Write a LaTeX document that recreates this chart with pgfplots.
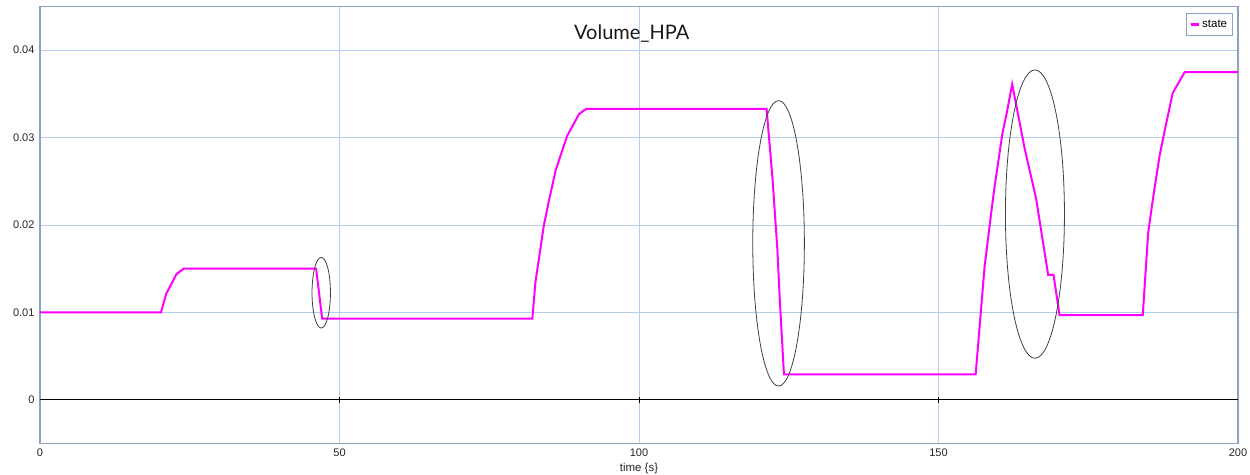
\documentclass[border=0pt]{standalone}
\usepackage{pgfplots}
\pgfplotsset{compat=1.18}
\usepackage{fontspec}
\setmainfont{Liberation Sans}
\newfontfamily\titlefont{Lato}
\definecolor{gridc}{RGB}{178,206,236}
\definecolor{framec}{RGB}{140,162,192}
\definecolor{curve}{RGB}{255,0,255}
\pgfplotstableread{
t v
0 0.01
20.2 0.01
21.05 0.0121
22.8 0.0144
24.0 0.015
46.1 0.015
47.1 0.0093
82.2 0.0093
82.7 0.0134
84.1 0.0199
85.0 0.0229
86.1 0.0263
88.0 0.0302
90.0 0.0327
91.2 0.0333
121.3 0.0333
122.3 0.0252
123.1 0.0172
123.5 0.0115
124.2 0.0029
156.2 0.0029
157.7 0.0153
158.8 0.0214
159.3 0.0241
160.7 0.0306
161.3 0.0325
162.3 0.0361
164.4 0.0287
166.3 0.0230
168.3 0.0143
169.2 0.0143
170.2 0.0097
184.1 0.0097
185.0 0.0191
185.8 0.0230
186.9 0.0279
187.7 0.0306
189.1 0.0351
191.1 0.0375
200 0.0375
}\state
\begin{document}
\begin{tikzpicture}
\begin{axis}[
  at={(0,0)}, anchor=south west,
  scale only axis, width=1198pt, height=437pt,
  xmin=0, xmax=200, ymin=-0.005, ymax=0.045,
  xtick={0,50,100,150,200},
  ytick={0,0.01,0.02,0.03,0.04},
  scaled y ticks=false,
  yticklabel style={/pgf/number format/fixed, /pgf/number format/precision=2},
  /pgf/number format/assume math mode=true,
  major tick length=0pt,
  tick label style={font=\fontsize{11}{13}\selectfont, text=black!85},
  xticklabel style={yshift=-2pt},
  yticklabel style={xshift=-2pt},
  grid=major,
  major grid style={gridc, line width=1pt},
  axis line style={framec, line width=1.5pt},
  xlabel={time \{s\}},
  xlabel style={font=\fontsize{11.5}{13}\selectfont, text=black!85, yshift=1pt},
  legend style={at={(rel axis cs:0.9955,0.986)}, anchor=north east, draw=framec, line width=1pt, fill=white,
    font=\fontsize{11.5}{13}\selectfont, inner xsep=3pt, inner ysep=4.5pt, row sep=0pt},
  legend cell align=left,
  legend image code/.code={\draw[line width=3pt, curve] (0pt,0pt) -- (8pt,0pt);},
  clip=false,
]
\addplot[black, line width=0.9pt, forget plot] coordinates {(0,0) (200,0)};
\draw[black, line width=0.9pt] ([yshift=-3pt]axis cs:50,0) -- ([yshift=3pt]axis cs:50,0);
\draw[black, line width=0.9pt] ([yshift=-3pt]axis cs:100,0) -- ([yshift=3pt]axis cs:100,0);
\draw[black, line width=0.9pt] ([yshift=-3pt]axis cs:150,0) -- ([yshift=3pt]axis cs:150,0);
\addplot[curve, line width=2pt] table[x=t, y=v] {\state};
\addlegendentry{state}
\draw[black!75, line width=0.8pt] (axis cs:46.95,0.01225) ellipse [x radius=9.2pt, y radius=35.3pt];
\draw[black!75, line width=0.8pt] (axis cs:123.3,0.0179) ellipse [x radius=25.8pt, y radius=142.7pt];
\draw[black!75, line width=0.8pt] (axis cs:166.1,0.02125) ellipse [x radius=29.5pt, y radius=144.2pt];
\node[font=\titlefont\fontsize{20}{24}\selectfont, text=black!90] at (rel axis cs:0.494,0.939) {Volume\_HPA};
\end{axis}
\pgfresetboundingbox
\path (-40pt,-30.5pt) rectangle (1210pt,443.5pt);
\end{tikzpicture}
\end{document}
